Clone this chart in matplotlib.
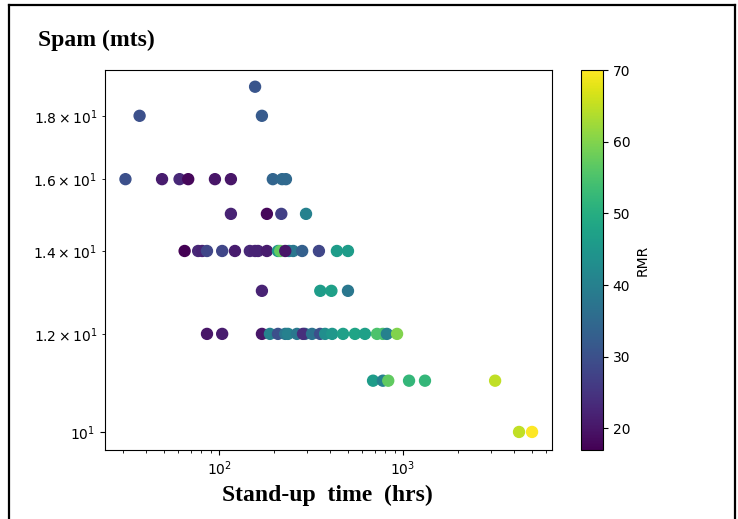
import matplotlib

matplotlib.use("Agg")
import matplotlib.pyplot as plt
from matplotlib.lines import Line2D
import numpy as np


# stand-up time (hrs), span (m), RMR
stand_up_time = [
    157,
    37, 171,
    31, 49, 61, 68, 95, 116, 196, 220, 231,
    116, 182, 218, 297,
    65, 77, 81, 86, 104, 122, 147, 157, 163, 182, 209, 215, 240, 253, 283, 229, 349, 437, 502,
    171, 355, 408, 502,
    86, 104, 171, 189, 209, 229, 237, 265, 293, 286, 320, 354, 377, 412, 472, 548, 621, 722, 777, 817, 928,
    687, 777, 831, 1078, 1316, 3165,
    4270, 5025,
]
span = [
    19,
    18, 18,
    16, 16, 16, 16, 16, 16, 16, 16, 16,
    15, 15, 15, 15,
    14, 14, 14, 14, 14, 14, 14, 14, 14, 14, 14, 14, 14, 14, 14, 14, 14, 14, 14,
    13, 13, 13, 13,
    12, 12, 12, 12, 12, 12, 12, 12, 12, 12, 12, 12, 12, 12, 12, 12, 12, 12, 12, 12, 12,
    11, 11, 11, 11, 11, 11,
    10, 10,
]
rmr = [
    31,
    30, 32,
    30, 21, 23, 18, 20, 20, 34, 35, 35,
    22, 18, 27, 40,
    17, 23, 22, 28, 28, 21, 23, 22, 22, 21, 45, 57, 40, 38, 33, 20, 28, 46, 46,
    22, 46, 47, 38,
    20, 21, 20, 40, 30, 38, 40, 38, 35, 24, 37, 30, 43, 45, 47, 48, 47, 55, 55, 40, 60,
    46, 40, 57, 52, 52, 65,
    65, 70,
]

W, H = 738, 519
fig = plt.figure(figsize=(W / 100, H / 100), dpi=100)

ax = fig.add_axes([105 / W, 1 - 450 / H, (552 - 105) / W, (450 - 70) / H])
cax = fig.add_axes([581 / W, 1 - 450 / H, (603 - 581) / W, (450 - 70) / H])

sc = ax.scatter(stand_up_time, span, c=rmr, cmap="viridis", s=62)
ax.set_xscale("log")
ax.set_yscale("log")
ax.set_xlim(24, 6450)
ax.set_ylim(9.67, 19.6)

cb = fig.colorbar(sc, cax=cax)
cb.set_label("RMR")

serif = ["Liberation Serif", "DejaVu Serif"]
fig.text(38 / W, 1 - 40 / H, "Spam (mts)", fontsize=17, fontweight="bold",
         family=serif, ha="left", va="center")
fig.text(327 / W, 1 - 495 / H, "Stand-up  time  (hrs)", fontsize=17, fontweight="bold",
         family=serif, ha="center", va="center")

# frame drawn around the pasted figure
lw = 1.6
for xs, ys in [
    ([9 / W, 9 / W], [0, 1 - 5 / H]),
    ([9 / W, 735 / W], [1 - 5 / H, 1 - 5 / H]),
    ([735 / W, 735 / W], [0, 1 - 5 / H]),
]:
    fig.add_artist(Line2D(xs, ys, color="black", lw=lw, transform=fig.transFigure))

fig.savefig("out.png", dpi=100)
